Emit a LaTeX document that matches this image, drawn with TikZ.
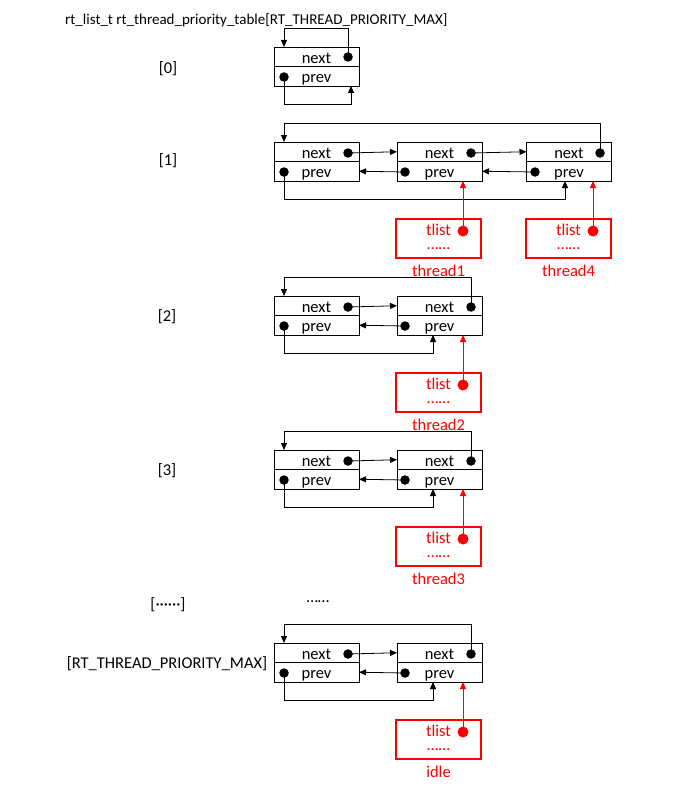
\documentclass[tikz,border=0pt]{standalone}
\usepackage{fontspec}
\setmainfont{Carlito}
\usetikzlibrary{arrows.meta,positioning}

\begin{document}
\begin{tikzpicture}[x=1pt,y=-1pt,
    every node/.style={font=\fontsize{16.5}{19}\selectfont},
    cell/.style={draw,line width=.8pt,minimum width=85pt,minimum height=19.5pt,inner sep=0pt,outer sep=0pt,text height=13pt,text depth=0pt},
    link/.style={line width=.8pt,-{Triangle[length=7pt,width=6pt]}},
    dot/.style={fill,circle,inner sep=0pt,minimum size=9.5pt},
    tlink/.style={red,line width=.8pt,-{Triangle[length=7pt,width=6pt]}},
    tbox/.style={draw=red,line width=1.8pt,minimum width=85pt,minimum height=39pt,inner sep=0pt},
    tdot/.style={fill=red,circle,inner sep=0pt,minimum size=11pt},
    ttext/.style={red,inner sep=0pt},
    tname/.style={red,inner sep=0pt}]
    \useasboundingbox (0,0) rectangle (692,797);

    \node[anchor=west,inner sep=0pt,font=\fontsize{15}{18}\selectfont] (title) at (65,20) {rt\_list\_t rt\_thread\_priority\_table[RT\_THREAD\_PRIORITY\_MAX]};

    % [0]
    \node (i0) at (168,69) {[0]};
    \node[cell] (l0-an) at (316.5,56.75) {next};
    \node[cell,below=0pt of l0-an] (l0-ap) {prev};
    \node[dot] (l0-dn) at (348,57) {};
    \node[dot] (l0-dp) at (284,77) {};
    \coordinate (l0-t) at (284,28);
    \coordinate (l0-b) at (351,104);
    \draw[link] (l0-dn.center) |- (l0-t) -- (l0-t |- l0-an.north);
    \draw[link] (l0-dp.center) |- (l0-b) -- (l0-b |- l0-ap.south);

    % [1]
    \node (i1) at (168,161) {[1]};
    \foreach \n/\x in {a/316.5,b/439.5,c/569} {
        \node[cell] (l1-\n n) at (\x,151.75) {next};
        \node[cell,below=0pt of l1-\n n] (l1-\n p) {prev};
    }
    \node[dot] (l1-adn) at (348,153) {};
    \node[dot] (l1-bdn) at (471,153) {};
    \node[dot] (l1-cdn) at (600,153) {};
    \node[dot] (l1-adp) at (284,172) {};
    \node[dot] (l1-bdp) at (405,172) {};
    \node[dot] (l1-cdp) at (535,172) {};
    \draw[link] (l1-adn.center) -- (l1-bn.west);
    \draw[link] (l1-bdn.center) -- (l1-cn.west);
    \draw[link] (l1-cdp.center) -- (l1-bp.east);
    \draw[link] (l1-bdp.center) -- (l1-ap.east);
    \coordinate (l1-t) at (284,123);
    \coordinate (l1-b) at (565,199);
    \draw[link] (l1-cdn.center) |- (l1-t) -- (l1-t |- l1-an.north);
    \draw[link] (l1-adp.center) |- (l1-b) -- (l1-b |- l1-cp.south);

    % thread1, thread4
    \foreach \th/\x/\k in {thread1/438.5/b,thread4/568.5/c} {
        \node[tbox] (\th) at (\x,238.5) {};
        \node[ttext] (\th-tl) at (\x,230) {tlist};
        \node[ttext] (\th-dd) at (\x,249) {……};
        \node[tdot] (\th-d) at (\x+24.5,231) {};
        \node[tname,below=6pt of \th] (\th-name) {\th};
        \draw[tlink] (\th-d.center) -- (\th-d |- l1-\k p.south);
    }

    % [2], [3], [RT_THREAD_PRIORITY_MAX]
    \foreach \r/\t/\th/\lab in {2/296/thread2/[2],3/450/thread3/[3],9/643/idle/[RT\_THREAD\_PRIORITY\_MAX]} {
        \node (i\r) at (167,\t+21) {\lab};
        \node[cell] (l\r-an) at (316.5,\t+9.75) {next};
        \node[cell,below=0pt of l\r-an] (l\r-ap) {prev};
        \node[cell] (l\r-bn) at (439.5,\t+9.75) {next};
        \node[cell,below=0pt of l\r-bn] (l\r-bp) {prev};
        \node[dot] (l\r-adn) at (348,\t+11) {};
        \node[dot] (l\r-bdn) at (471,\t+11) {};
        \node[dot] (l\r-adp) at (284,\t+30) {};
        \node[dot] (l\r-bdp) at (405,\t+30) {};
        \draw[link] (l\r-adn.center) -- (l\r-bn.west);
        \draw[link] (l\r-bdp.center) -- (l\r-ap.east);
        \coordinate (l\r-t) at (284,\t-19);
        \coordinate (l\r-b) at (433,\t+57);
        \draw[link] (l\r-bdn.center) |- (l\r-t) -- (l\r-t |- l\r-an.north);
        \draw[link] (l\r-adp.center) |- (l\r-b) -- (l\r-b |- l\r-bp.south);
        \node[tbox] (\th) at (438.5,\t+96.5) {};
        \node[ttext] (\th-tl) at (438.5,\t+88) {tlist};
        \node[ttext] (\th-dd) at (438.5,\t+107) {……};
        \node[tdot] (\th-d) at (463,\t+89) {};
        \node[tname,below=6pt of \th] (\th-name) {\th};
        \draw[tlink] (\th-d.center) -- (\th-d |- l\r-bp.south);
    }

    % [......]
    \node (i4) at (168,605) {[······]};
    \node (more) at (318,602) {……};
\end{tikzpicture}
\end{document}
